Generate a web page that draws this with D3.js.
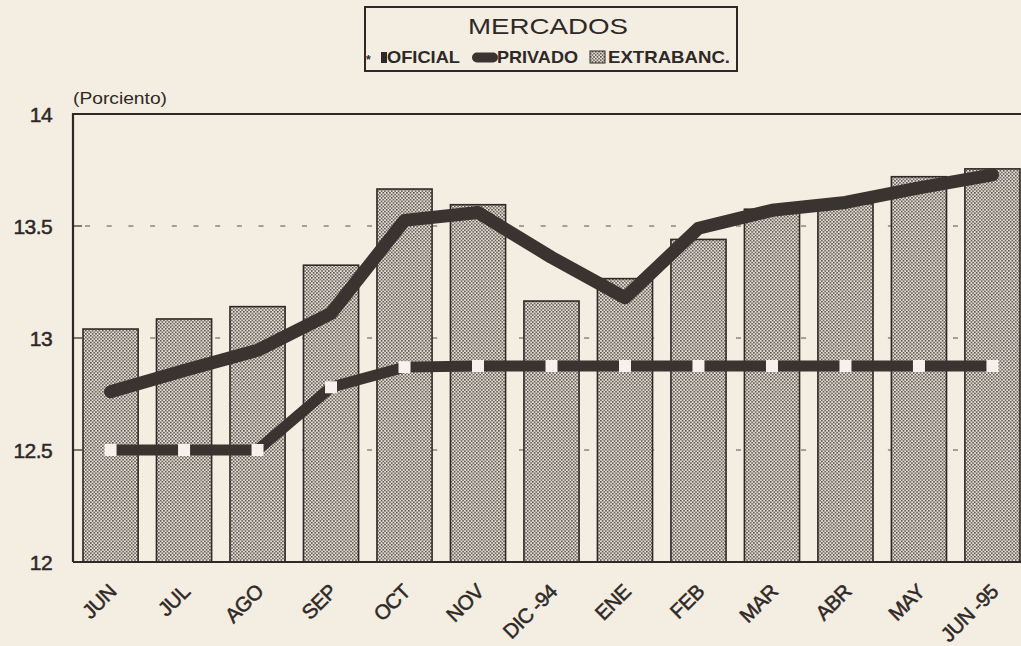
<!DOCTYPE html>
<html>
<head>
<meta charset="UTF-8">
<title>Mercados</title>
<style>
  body { margin: 0; background: #f4ede2; }
  svg { display: block; font-family: "Liberation Sans", Arial, sans-serif; }
</style>
</head>
<body>
<script src="https://d3js.org/d3.v7.min.js"></script>
<script>
// datos
var meses = ["JUN", "JUL", "AGO", "SEP", "OCT", "NOV", "DIC -94", "ENE", "FEB", "MAR", "ABR", "MAY", "JUN -95"];
var extrabanc = [13.04, 13.085, 13.14, 13.325, 13.665, 13.595, 13.165, 13.265, 13.44, 13.575, 13.60, 13.72, 13.755];
var privado = [12.76, 12.855, 12.945, 13.11, 13.525, 13.56, 13.36, 13.18, 13.49, 13.57, 13.605, 13.67, 13.728];
var oficial = [12.5, 12.5, 12.5, 12.78, 12.87, 12.875, 12.875, 12.875, 12.875, 12.875, 12.875, 12.875, 12.875];
var yTicks = [12, 12.5, 13, 13.5, 14];

var width = 1021, height = 646;
var ink = "#2e2926";

var svg = d3.select("body").append("svg")
  .attr("width", width)
  .attr("height", height);

svg.append("rect").attr("width", width).attr("height", height).attr("fill", "#f4ede2");

// patron punteado de las barras
var defs = svg.append("defs");
var pat = defs.append("pattern")
  .attr("id", "puntos")
  .attr("patternUnits", "userSpaceOnUse")
  .attr("width", 3.4).attr("height", 3.4);
pat.append("rect").attr("width", 3.4).attr("height", 3.4).attr("fill", "#e8e1d6");
pat.append("rect").attr("width", 1.5).attr("height", 1.5).attr("fill", "#4a4440");
pat.append("rect").attr("x", 1.7).attr("y", 1.7).attr("width", 1.5).attr("height", 1.5).attr("fill", "#4a4440");

var mLeft = 73, mTop = 114, mBottom = 562;

var x = d3.scaleBand()
  .domain(meses)
  .range([mLeft, 1030])
  .paddingInner(0.25)
  .paddingOuter(0.136);

var y = d3.scaleLinear()
  .domain([12, 14])
  .range([mBottom, mTop]);

var medios = yTicks.filter(function(d){ return d > 12 && d < 14; });

// lineas de referencia
svg.append("g").selectAll("line")
  .data(medios)
  .enter().append("line")
  .attr("x1", mLeft + 12).attr("x2", width)
  .attr("y1", function(d){ return y(d); })
  .attr("y2", function(d){ return y(d); })
  .attr("stroke", "#5a524c")
  .attr("stroke-width", 1.2)
  .attr("stroke-dasharray", "5,16.7");

// barras
svg.append("g").selectAll("rect")
  .data(extrabanc)
  .enter().append("rect")
  .attr("x", function(d, i){ return x(meses[i]); })
  .attr("y", function(d){ return y(d); })
  .attr("width", x.bandwidth())
  .attr("height", function(d){ return mBottom - y(d); })
  .attr("fill", "url(#puntos)")
  .attr("stroke", ink)
  .attr("stroke-width", 1.6);

// marco
svg.append("path")
  .attr("d", "M" + mLeft + "," + mBottom + "V" + mTop + "H" + width)
  .attr("fill", "none").attr("stroke", ink).attr("stroke-width", 2.2);
svg.append("line")
  .attr("x1", mLeft).attr("x2", width)
  .attr("y1", mBottom).attr("y2", mBottom)
  .attr("stroke", ink).attr("stroke-width", 2.2);

// marcas del eje y
svg.append("g").selectAll("line")
  .data(medios)
  .enter().append("line")
  .attr("x1", mLeft).attr("x2", mLeft + 9)
  .attr("y1", function(d){ return y(d); })
  .attr("y2", function(d){ return y(d); })
  .attr("stroke", ink).attr("stroke-width", 1.2);

svg.append("g").selectAll("text")
  .data(yTicks)
  .enter().append("text")
  .attr("x", 52)
  .attr("y", function(d){ return y(d); })
  .attr("dy", "0.36em")
  .attr("text-anchor", "end")
  .attr("font-size", 21)
  .attr("letter-spacing", -0.6)
  .attr("fill", ink)
  .attr("stroke", ink).attr("stroke-width", 0.5)
  .text(function(d){ return d; });

svg.append("text")
  .attr("x", 73).attr("y", 104)
  .attr("font-size", 16.5)
  .attr("textLength", 94)
  .attr("lengthAdjust", "spacingAndGlyphs")
  .attr("fill", ink)
  .text("(Porciento)");

// etiquetas del eje x
svg.append("g").selectAll("text")
  .data(meses)
  .enter().append("text")
  .attr("transform", function(d){
    return "translate(" + (x(d) + x.bandwidth() / 2 + 7) + ",593) rotate(-45)";
  })
  .attr("text-anchor", "end")
  .attr("font-size", 20.5)
  .attr("letter-spacing", -0.6)
  .attr("fill", ink)
  .attr("stroke", ink).attr("stroke-width", 0.5)
  .text(function(d){ return d; });

var cx = function(i){ return x(meses[i]) + x.bandwidth() / 2; };

// privado
var linea = d3.line()
  .x(function(d, i){ return cx(i); })
  .y(function(d){ return y(d); });

svg.append("path")
  .datum(privado)
  .attr("d", linea)
  .attr("fill", "none")
  .attr("stroke", "#3a3431")
  .attr("stroke-width", 13)
  .attr("stroke-linejoin", "round")
  .attr("stroke-linecap", "round");

// oficial
svg.append("path")
  .datum(oficial)
  .attr("d", linea)
  .attr("fill", "none")
  .attr("stroke", "#3a3431")
  .attr("stroke-width", 11);

svg.append("g").selectAll("rect")
  .data(oficial)
  .enter().append("rect")
  .attr("x", function(d, i){ return cx(i) - 6; })
  .attr("y", function(d){ return y(d) - 6; })
  .attr("width", 12).attr("height", 12)
  .attr("fill", "#f6f1ea");

// titulo y leyenda
svg.append("rect")
  .attr("x", 365).attr("y", 7)
  .attr("width", 372).attr("height", 64)
  .attr("fill", "none").attr("stroke", ink).attr("stroke-width", 2);

svg.append("text")
  .attr("x", 468).attr("y", 34)
  .attr("font-size", 22)
  .attr("textLength", 160)
  .attr("lengthAdjust", "spacingAndGlyphs")
  .attr("fill", ink)
  .text("MERCADOS");

var ley = svg.append("g").attr("font-size", 17).attr("font-weight", "bold").attr("fill", ink);
ley.append("text").attr("x", 366).attr("y", 64).attr("font-size", 12).text("*");
ley.append("rect").attr("x", 381).attr("y", 52).attr("width", 6).attr("height", 11).attr("fill", ink);
ley.append("text").attr("x", 387).attr("y", 63).attr("textLength", 73).attr("lengthAdjust", "spacingAndGlyphs").text("OFICIAL");
ley.append("path")
  .attr("d", "M477,57.5H493")
  .attr("stroke", "#3a3431").attr("stroke-width", 10).attr("stroke-linecap", "round");
ley.append("text").attr("x", 497).attr("y", 63).attr("textLength", 81).attr("lengthAdjust", "spacingAndGlyphs").text("PRIVADO");
ley.append("rect")
  .attr("x", 590).attr("y", 51).attr("width", 15).attr("height", 12)
  .attr("fill", "url(#puntos)").attr("stroke", ink).attr("stroke-width", 1);
ley.append("text").attr("x", 608).attr("y", 63).attr("textLength", 122).attr("lengthAdjust", "spacingAndGlyphs").text("EXTRABANC.");
</script>
</body>
</html>
